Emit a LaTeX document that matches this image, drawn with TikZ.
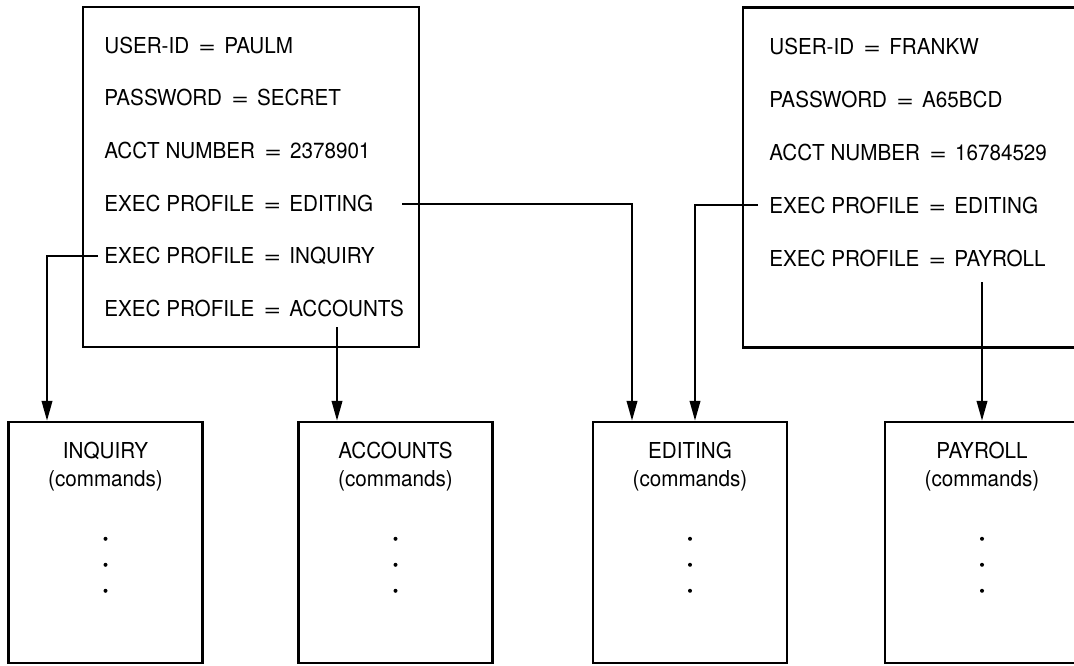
\documentclass[tikz,border=0pt]{standalone}
\usepackage{fontspec}
\setmainfont{TeX Gyre Heros}[FakeStretch=0.94]
\usepackage{tikz}
\usetikzlibrary{calc, positioning, arrows.meta}
\newcommand{\equalsgap}{\hspace{0.42em}\scalebox{1.45}[1]{=}\hspace{0.38em}}

\begin{document}
\begin{tikzpicture}[
  userbox/.style={draw, line width=1.4pt, minimum height=6.8cm, inner sep=0pt},
  entry/.style={anchor=west, inner sep=0pt, font=\fontsize{12.5}{15}\selectfont},
  cmdbox/.style={draw, line width=1.4pt, minimum width=3.88cm, minimum height=4.82cm, inner sep=0pt},
  cmdname/.style={align=center, inner sep=0pt, font=\fontsize{12.5}{16}\selectfont},
  link/.style={line width=1.3pt, -{Triangle[length=0.4cm, width=0.21cm]}},
]
\clip (0,0) rectangle (21.48,-13.3);

% user profiles
\node[userbox, minimum width=6.72cm] (paul) at (5.02,-3.54) {};
\node[entry] (p1) at (2.08,-0.90) {USER-ID\equalsgap PAULM};
\node[entry] (p2) at (2.08,-1.95) {PASSWORD\equalsgap SECRET};
\node[entry] (p3) at (2.08,-3.01) {ACCT NUMBER\equalsgap 2378901};
\node[entry] (p4) at (2.08,-4.06) {EXEC PROFILE\equalsgap EDITING};
\node[entry] (p5) at (2.08,-5.12) {EXEC PROFILE\equalsgap INQUIRY};
\node[entry] (p6) at (2.08,-6.16) {EXEC PROFILE\equalsgap ACCOUNTS};

\node[userbox, minimum width=8cm] (frank) at (18.86,-3.55) {};
\node[entry] (f1) at (15.38,-0.92) {USER-ID\equalsgap FRANKW};
\node[entry] (f2) at (15.38,-1.98) {PASSWORD\equalsgap A65BCD};
\node[entry] (f3) at (15.38,-3.04) {ACCT NUMBER\equalsgap 16784529};
\node[entry] (f4) at (15.38,-4.10) {EXEC PROFILE\equalsgap EDITING};
\node[entry] (f5) at (15.38,-5.16) {EXEC PROFILE\equalsgap PAYROLL};

% command sets
\node[cmdbox] (inq) at (2.11,-10.85) {};
\node[cmdname] (inqname) at ([yshift=-0.92cm]inq.north) {INQUIRY\\(commands)};
\node[cmdbox] (acc) at (7.91,-10.85) {};
\node[cmdname] (accname) at ([yshift=-0.92cm]acc.north) {ACCOUNTS\\(commands)};
\node[cmdbox] (edi) at (13.80,-10.85) {};
\node[cmdname] (ediname) at ([yshift=-0.92cm]edi.north) {EDITING\\(commands)};
\node[cmdbox] (pay) at (19.64,-10.85) {};
\node[cmdname] (payname) at ([yshift=-0.92cm]pay.north) {PAYROLL\\(commands)};

\foreach \b in {inq,acc,edi,pay}
  \foreach \d in {2.36,2.88,3.40}
    \fill ([yshift=-\d cm]\b.north) circle (0.04);

% connectors
\coordinate (pe) at (8.04,-4.08);
\coordinate (pa) at (6.74,-6.54);
\coordinate (fe) at (15.16,-4.10);
\coordinate (fp) at (19.64,-5.64);

\draw[link] ([xshift=-0.12cm]p5.west) -| ([xshift=-1.17cm]inq.north);
\draw[link] (pa) -- (pa |- acc.north);
\draw[link] (pe) -| ([xshift=-1.16cm]edi.north);
\draw[link] (fe) -| ([xshift=0.10cm]edi.north);
\draw[link] (fp) -- (pay.north);
\end{tikzpicture}
\end{document}
